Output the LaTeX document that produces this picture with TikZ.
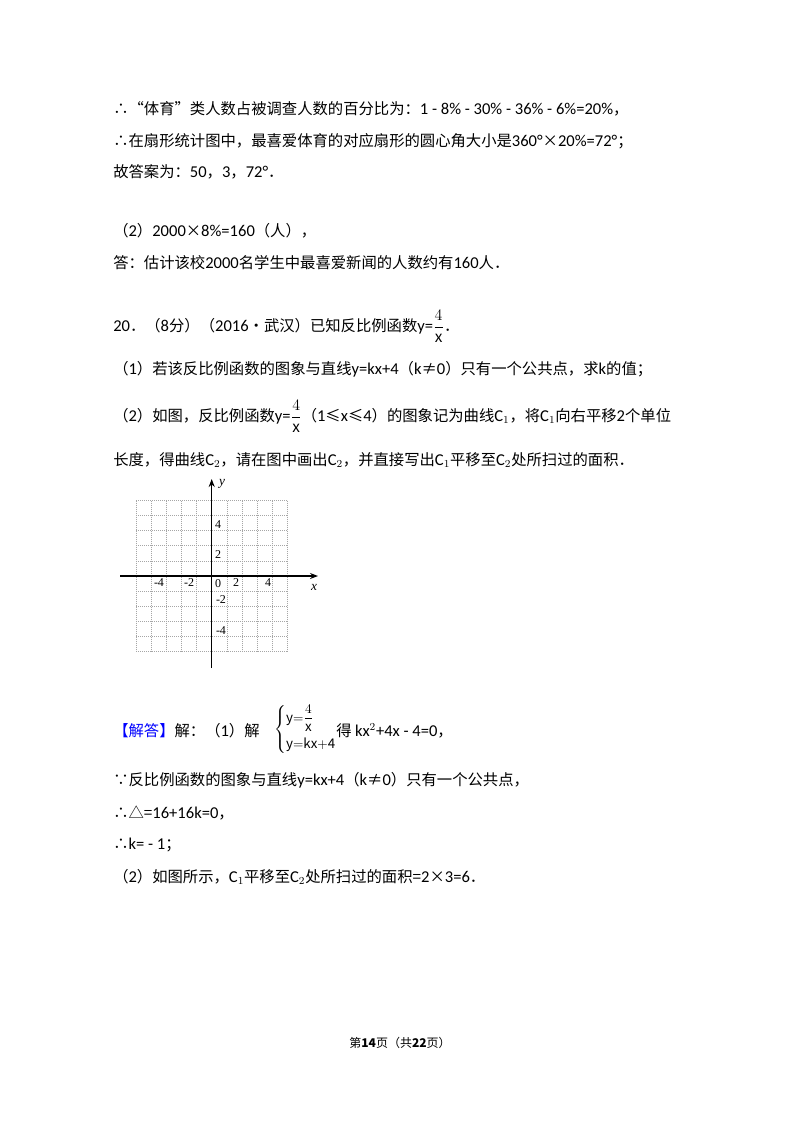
\documentclass[tikz,border=0pt]{standalone}
\usepackage{fontspec}
\usetikzlibrary{arrows.meta}
\setmainfont{Noto Sans CJK SC}
\newfontfamily\lat{Carlito}[Scale=1.08]
\newfontfamily\tms{Liberation Serif}
\begin{document}
\begin{tikzpicture}[x=0.75pt,y=-0.75pt,
  txt/.style={anchor=west,inner sep=0pt,font=\fontsize{11.5pt}{14pt}\selectfont},
  gl/.style={draw=gray!70,densely dotted,line width=0.5pt},
  ax/.style={line width=0.9pt,-{Stealth[length=6pt]}},
  lb/.style={inner sep=1pt,font=\tms\fontsize{9pt}{10pt}\selectfont}]
\useasboundingbox (0,0) rectangle (800,1132);
\fill[white] (0,0) rectangle (800,1132);
\node[txt] (l1) at (113,109) {∴“体育”类人数占被调查人数的百分比为：{\lat 1 - 8\% - 30\% - 36\% - 6\%=20\%}，};
\node[txt] (l2) at (113,141) {∴在扇形统计图中，最喜爱体育的对应扇形的圆心角大小是{\lat 360°}×{\lat 20\%=72°}；};
\node[txt] (l3) at (113,172) {故答案为：{\lat 50}，{\lat 3}，{\lat 72°}．};
\node[txt] (l4) at (113,231) {（{\lat 2}）{\lat 2000}×{\lat 8\%=160}（人），};
\node[txt] (l5) at (113,263) {答：估计该校{\lat 2000}名学生中最喜爱新闻的人数约有{\lat 160}人．};
\node[txt] (l6) at (113,326) {{\lat 20}．（{\lat 8}分）（{\lat 2016}•武汉）已知反比例函数{\lat y=}$\displaystyle\frac{4}{\mathrm{x}}$．};
\node[txt] (l7) at (113,369) {（{\lat 1}）若该反比例函数的图象与直线{\lat y=kx+4}（{\lat k}≠{\lat 0}）只有一个公共点，求{\lat k}的值；};
\node[txt] (l8) at (113,416) {（{\lat 2}）如图，反比例函数{\lat y=}$\displaystyle\frac{4}{\mathrm{x}}$（{\lat 1}≤{\lat x}≤{\lat 4}）的图象记为曲线{\lat C$_1$}，将{\lat C$_1$}向右平移{\lat 2}个单位};
\node[txt] (l9) at (113,460) {长度，得曲线{\lat C$_2$}，请在图中画出{\lat C$_2$}，并直接写出{\lat C$_1$}平移至{\lat C$_2$}处所扫过的面积．};
% grid
\foreach \i in {-5,...,5} {
  \draw[gl] (211.7+15.15*\i,500.7) -- (211.7+15.15*\i,651.7);
  \draw[gl] (136.2,576+15.1*\i) -- (287.2,576+15.1*\i);}
\coordinate (xs) at (120,576); \coordinate (xe) at (318,576);
\coordinate (ys) at (211.7,668); \coordinate (ye) at (211.7,479);
\draw[ax] (xs) -- (xe);
\draw[ax] (ys) -- (ye);
\node[lb,font=\tms\itshape\fontsize{10pt}{10pt}\selectfont] (xl) at (314,587) {x};
\node[lb,font=\tms\itshape\fontsize{10pt}{10pt}\selectfont] (yl) at (222,484) {y};
\node[lb] (n4) at (159,583) {-4};
\node[lb] (n2) at (189,583) {-2};
\node[lb] (n0) at (218,584) {0};
\node[lb] (p2) at (236,583) {2};
\node[lb] (p4) at (268,583) {4};
\node[lb] (y4) at (218,525) {4};
\node[lb] (y2) at (218,555) {2};
\node[lb] (ym2) at (221,600) {-2};
\node[lb] (ym4) at (221,631) {-4};
% solution
\node[txt] (s1) at (113,731) {{\color{blue}【解答】}解：（{\lat 1}）解};
\node[inner sep=0pt,anchor=west,font=\tms\fontsize{10pt}{12pt}\selectfont] (sys) at (274,729) {$\left\{\begin{array}{@{}l@{}}\mathrm{y{=}}\displaystyle\frac{4}{\mathrm{x}}\\[8pt]\mathrm{y{=}kx{+}4}\end{array}\right.$};
\node[txt] (s1b) at (336,731) {得 {\lat kx$^2$+4x - 4=0}，};
\node[txt] (s2) at (113,780) {∵反比例函数的图象与直线{\lat y=kx+4}（{\lat k}≠{\lat 0}）只有一个公共点，};
\node[txt] (s3) at (113,813) {∴△={\lat 16+16k=0}，};
\node[txt] (s4) at (113,845) {∴{\lat k= - 1}；};
\node[txt] (s5) at (113,877) {（{\lat 2}）如图所示，{\lat C$_1$}平移至{\lat C$_2$}处所扫过的面积={\lat 2}×{\lat 3=6}．};
\node[inner sep=0pt,font=\fontsize{9pt}{10pt}\selectfont] (ft) at (400,1043) {第\textbf{14}页（共\textbf{22}页）};
\end{tikzpicture}
\end{document}
